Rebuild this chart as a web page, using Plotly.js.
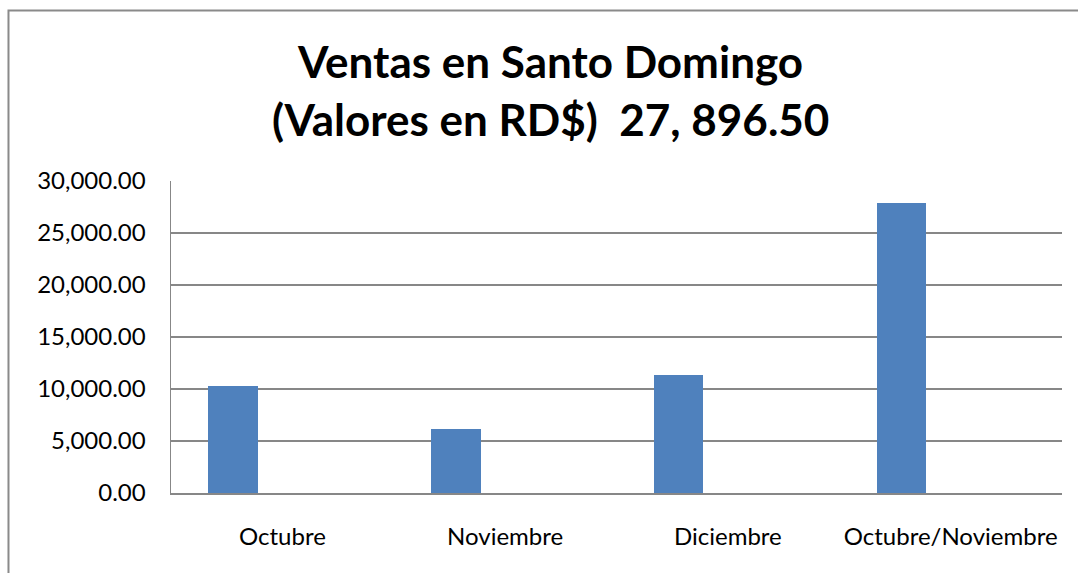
<!DOCTYPE html>
<html>
<head>
<meta charset="utf-8">
<script src="https://cdn.plot.ly/plotly-3.0.1.min.js"></script>
<style>html,body{margin:0;padding:0;background:#fff;}#chart{width:1078px;height:573px;}</style>
</head>
<body>
<div id="chart"></div>
<script>
const categories = ["Octubre", "Noviembre", "Diciembre", "Octubre/Noviembre"];
const ventas = [10290, 6120, 11350, 27896.5];
const yTicks = [0, 5000, 10000, 15000, 20000, 25000, 30000];
const titleLine1 = "Ventas en Santo Domingo";
const titleLine2 = "(Valores en RD$)  27, 896.50";

const FONT = "Lato, 'Open Sans', sans-serif";
const GRID = "#878787";

const trace = {
  type: "bar",
  x: categories,
  y: ventas,
  width: 0.222,
  offset: -0.3325,
  marker: { color: "#4F81BD", line: { width: 0 } },
  hoverinfo: "skip"
};

const layout = {
  width: 1078,
  height: 573,
  margin: { l: 171, r: 16, t: 181, b: 80, pad: 0 },
  paper_bgcolor: "#ffffff",
  plot_bgcolor: "#ffffff",
  showlegend: false,
  bargap: 0,
  font: { family: FONT, color: "#000000", size: 24 },
  xaxis: {
    type: "category",
    range: [-0.5, 3.5],
    showline: true,
    linecolor: GRID,
    linewidth: 1.5,
    showgrid: false,
    ticks: "",
    ticklabelstandoff: 22,
    tickfont: { family: FONT, size: 24, color: "#000" },
    fixedrange: true
  },
  yaxis: {
    range: [0, 30000],
    tickvals: yTicks,
    tickformat: ",.2f",
    showline: true,
    linecolor: GRID,
    linewidth: 1.5,
    showgrid: true,
    gridcolor: GRID,
    gridwidth: 1.5,
    zeroline: false,
    ticks: "",
    ticklabelstandoff: 19,
    tickfont: { family: FONT, size: 24, color: "#000" },
    fixedrange: true
  },
  shapes: [
    {
      type: "rect", xref: "paper", yref: "paper",
      x0: -0.1824, x1: 1.2, y0: -0.5, y1: 1.5465,
      line: { color: "#8a8a8a", width: 2 }, fillcolor: "rgba(0,0,0,0)", layer: "below"
    }
  ],
  annotations: [
    {
      text: "<b>" + titleLine1 + "</b>", xref: "paper", yref: "paper",
      x: 0.4254, y: (493 - 61) / 312, xanchor: "center", yanchor: "middle",
      showarrow: false, font: { family: FONT, size: 44, color: "#000" }
    },
    {
      text: "<b>" + titleLine2 + "</b>", xref: "paper", yref: "paper",
      x: 0.4254, y: (493 - 119) / 312, xanchor: "center", yanchor: "middle",
      showarrow: false, font: { family: FONT, size: 44, color: "#000" }
    }
  ]
};

Plotly.newPlot("chart", [trace], layout, { staticPlot: true, displayModeBar: false });
</script>
</body>
</html>
